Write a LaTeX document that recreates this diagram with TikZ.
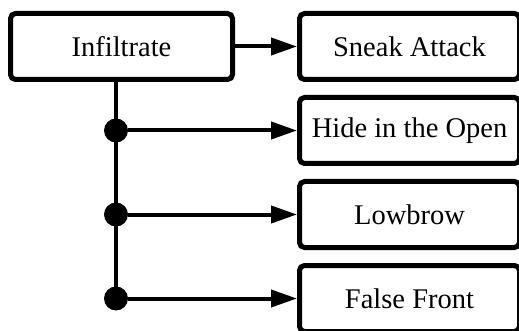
\documentclass[tikz,border=0pt]{standalone}
\usepackage{fontspec}
\setmainfont{Liberation Serif}
\usetikzlibrary{arrows.meta}
\begin{document}
\begin{tikzpicture}[x=1pt,y=-1pt,
  box/.style={draw=black, line width=5pt, rounded corners=5pt, fill=white,
    minimum height=66pt, inner sep=0pt, font=\fontsize{28.5}{34}\selectfont},
  dot/.style={circle, fill=black, minimum size=24pt, inner sep=0pt},
  conn/.style={line width=4pt},
  arr/.style={conn, -{Triangle[length=26pt,width=17pt]}}]
\useasboundingbox (0,0) rectangle (519,331);
\node[box, minimum width=222pt] (inf) at (121.5,46.5) {Infiltrate};
\node[box, minimum width=220pt] (sa) at (409.5,46.5) {Sneak Attack};
\node[box, minimum width=220pt] (hide) at (409.5,130.5) {Hide in the Open};
\node[box, minimum width=220pt] (low) at (409.5,214.5) {Lowbrow};
\node[box, minimum width=220pt] (ff) at (409.5,298.5) {False Front};
\node[dot] (d1) at (116,130.5) {};
\node[dot] (d2) at (116,214.5) {};
\node[dot] (d3) at (116,298.5) {};
\draw[conn] (d1 |- inf.south) -- (d3.center);
\draw[arr] (inf.east) -- (sa.west);
\draw[arr] (d1) -- (hide.west);
\draw[arr] (d2) -- (low.west);
\draw[arr] (d3) -- (ff.west);
\end{tikzpicture}
\end{document}
